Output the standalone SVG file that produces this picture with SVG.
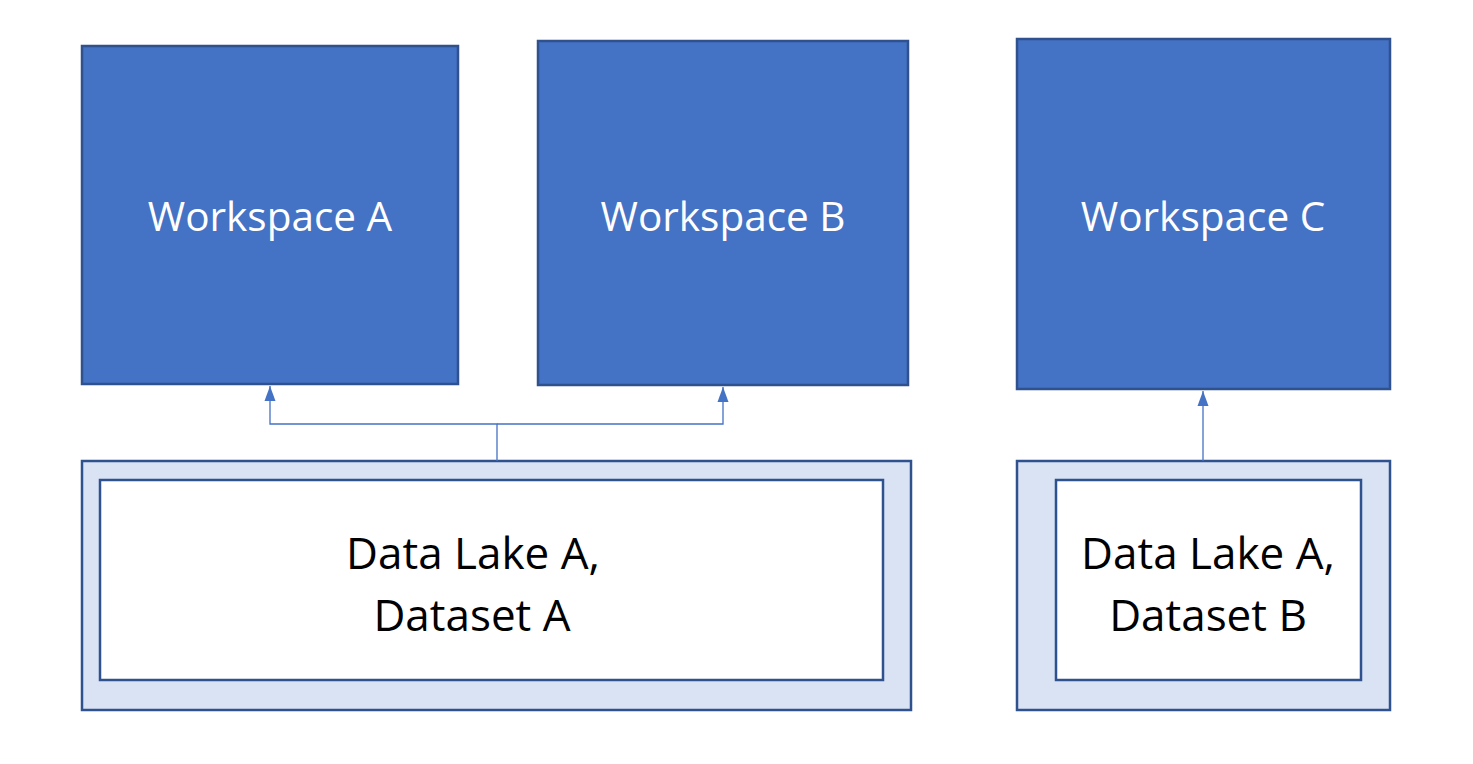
<svg xmlns="http://www.w3.org/2000/svg" width="1473" height="764" viewBox="0 0 1473 764">
<style>
.ws{fill:#4472C4;stroke:#2F528F;stroke-width:2.5}
.outer{fill:#DAE3F3;stroke:#2F528F;stroke-width:2.5}
.inner{fill:#FFFFFF;stroke:#2F528F;stroke-width:2.5}
.wt{font-family:"Open Sans","Liberation Sans",sans-serif;font-size:40.5px;fill:#FFFFFF;text-anchor:middle}
.lt{font-family:"Open Sans","Liberation Sans",sans-serif;font-size:44px;fill:#000000;text-anchor:middle}
.conn{fill:none;stroke:#4472C4;stroke-width:1.3}
</style>
<defs>
<marker id="arr" markerWidth="16" markerHeight="12" refX="15" refY="6" orient="auto" markerUnits="userSpaceOnUse" viewBox="0 0 16 12">
<path d="M15 6 L0 0.5 L0 11.5 Z" fill="#4472C4"/>
</marker>
</defs>
<g id="workspaceA"><rect class="ws" x="82" y="46" width="376" height="338"/><text class="wt" x="270" y="231">Workspace A</text></g>
<g id="workspaceB"><rect class="ws" x="538" y="41" width="370" height="344"/><text class="wt" x="723" y="231">Workspace B</text></g>
<g id="workspaceC"><rect class="ws" x="1017" y="39" width="373" height="350"/><text class="wt" x="1203" y="231">Workspace C</text></g>
<g id="lakeA"><rect class="outer" x="82" y="461" width="829" height="249"/><rect class="inner" x="100" y="480" width="783" height="200"/><text class="lt" x="473" y="569">Data Lake A,</text><text class="lt" x="472" y="631">Dataset A</text></g>
<g id="lakeB"><rect class="outer" x="1017" y="461" width="373" height="249"/><rect class="inner" x="1056" y="480" width="305" height="200"/><text class="lt" x="1208" y="569">Data Lake A,</text><text class="lt" x="1208" y="631">Dataset B</text></g>
<g id="connectors">
<polyline class="conn" points="497,461 497,424 270,424 270,386" marker-end="url(#arr)"/>
<polyline class="conn" points="497,424 723,424 723,387" marker-end="url(#arr)"/>
<line class="conn" x1="1203" y1="461" x2="1203" y2="391" marker-end="url(#arr)"/>
</g>
</svg>
